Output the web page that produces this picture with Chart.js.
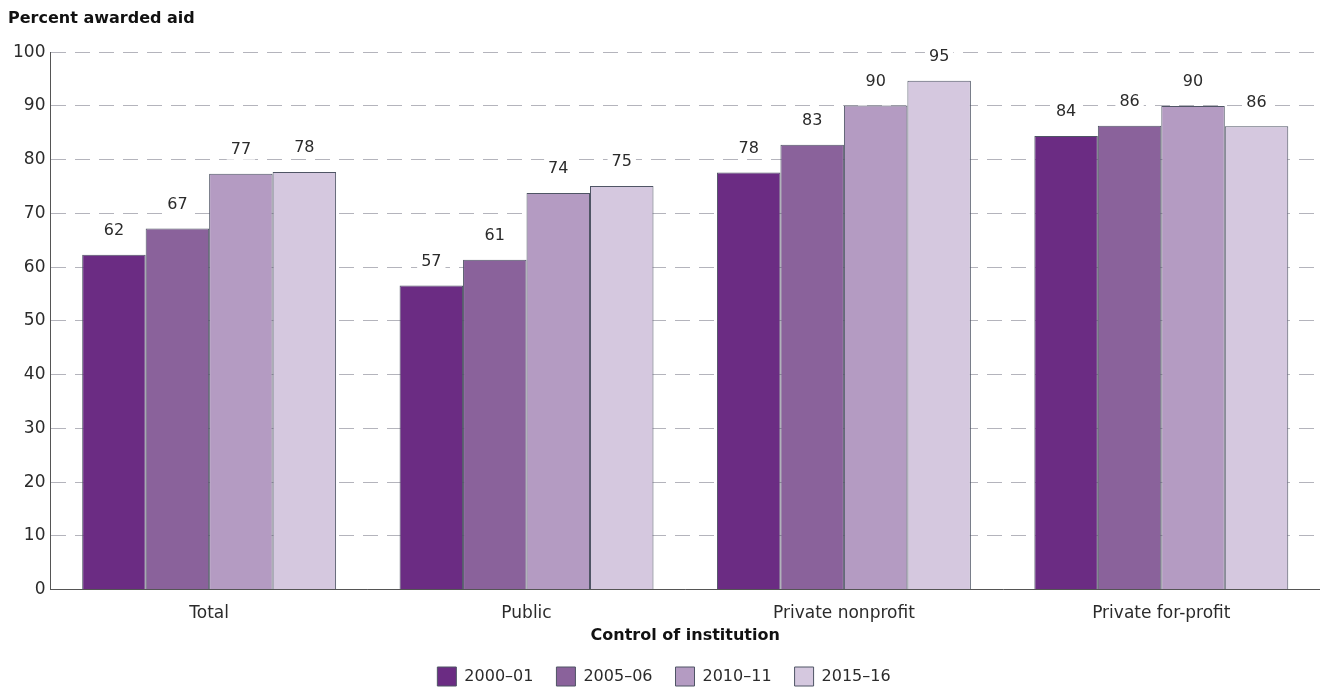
<!DOCTYPE html>
<html lang="en">
<head>
    <meta charset="UTF-8">
    <title>Percent awarded aid</title>
    <script src="https://cdn.jsdelivr.net/npm/chart.js"></script>
    <style>
        html, body { margin: 0; padding: 0; background: #fff; }
        .chart-container { width: 1320px; height: 691px; position: relative; }
    </style>
</head>
<body>
    <div class="chart-container">
        <canvas id="aidChart"></canvas>
    </div>

    <script>
        // data
        const categories = ['Total', 'Public', 'Private nonprofit', 'Private for-profit'];
        const years = ['2000\u201301', '2005\u201306', '2010\u201311', '2015\u201316'];
        const aid2000 = [62.3, 56.6, 77.6, 84.4];
        const aid2005 = [67.2, 61.4, 82.8, 86.3];
        const aid2010 = [77.4, 73.8, 90.1, 90.0];
        const aid2015 = [77.7, 75.1, 94.7, 86.2];
        const yTicks = [0, 10, 20, 30, 40, 50, 60, 70, 80, 90, 100];

        const colors = ['#6b2c83', '#8a629b', '#b49bc2', '#d5c8df'];
        const fontFamily = '"DejaVu Sans", sans-serif';
        const textColor = '#2b2b2b';

        // value labels over the bars, with white box over the dashed grid
        const valueLabels = {
            id: 'valueLabels',
            afterDatasetsDraw(chart) {
                const ctx = chart.ctx;
                ctx.save();
                ctx.font = '16px ' + fontFamily;
                ctx.textAlign = 'center';
                ctx.textBaseline = 'middle';
                chart.data.datasets.forEach((ds, i) => {
                    chart.getDatasetMeta(i).data.forEach((bar, j) => {
                        const txt = String(Math.round(ds.data[j]));
                        const w = ctx.measureText(txt).width;
                        const y = bar.y - 24;
                        ctx.fillStyle = '#fff';
                        ctx.fillRect(bar.x - w / 2 - 4, y - 10, w + 8, 20);
                        ctx.fillStyle = textColor;
                        ctx.fillText(txt, bar.x, y);
                    });
                });
                ctx.restore();
            }
        };

        const ctx = document.getElementById('aidChart').getContext('2d');
        new Chart(ctx, {
            type: 'bar',
            data: {
                labels: categories,
                datasets: [aid2000, aid2005, aid2010, aid2015].map((d, i) => ({
                    label: years[i],
                    data: d,
                    backgroundColor: colors[i],
                    borderColor: '#4f5565',
                    borderWidth: 1,
                    categoryPercentage: 0.8,
                    barPercentage: 1.0
                }))
            },
            options: {
                responsive: true,
                maintainAspectRatio: false,
                animation: false,
                layout: { padding: { left: 8, right: 0, top: 9, bottom: -5 } },
                plugins: {
                    title: {
                        display: true,
                        text: 'Percent awarded aid',
                        align: 'start',
                        color: '#111',
                        font: { family: fontFamily, size: 16, weight: 'bold' },
                        padding: { top: 0, bottom: 24 }
                    },
                    legend: {
                        position: 'bottom',
                        labels: {
                            color: textColor,
                            font: { family: fontFamily, size: 16 },
                            boxWidth: 19,
                            boxHeight: 19,
                            padding: 23
                        }
                    },
                    tooltip: { enabled: false }
                },
                scales: {
                    x: {
                        grid: { display: false },
                        border: { display: true, color: '#555', width: 1 },
                        ticks: {
                            color: textColor,
                            font: { family: fontFamily, size: 17 },
                            padding: 6
                        },
                        title: {
                            display: true,
                            text: 'Control of institution',
                            color: '#111',
                            font: { family: fontFamily, size: 16, weight: 'bold', lineHeight: 1 },
                            padding: { top: -2, bottom: 0 }
                        }
                    },
                    y: {
                        min: 0,
                        max: 100,
                        afterBuildTicks(axis) {
                            axis.ticks = yTicks.map(v => ({ value: v }));
                        },
                        grid: {
                            color: '#b4b4bc',
                            drawTicks: false
                        },
                        border: { display: true, color: '#555', width: 1, dash: [15, 9] },
                        ticks: {
                            color: textColor,
                            font: { family: fontFamily, size: 17 },
                            padding: 5
                        }
                    }
                }
            },
            plugins: [valueLabels]
        });
    </script>
</body>
</html>
